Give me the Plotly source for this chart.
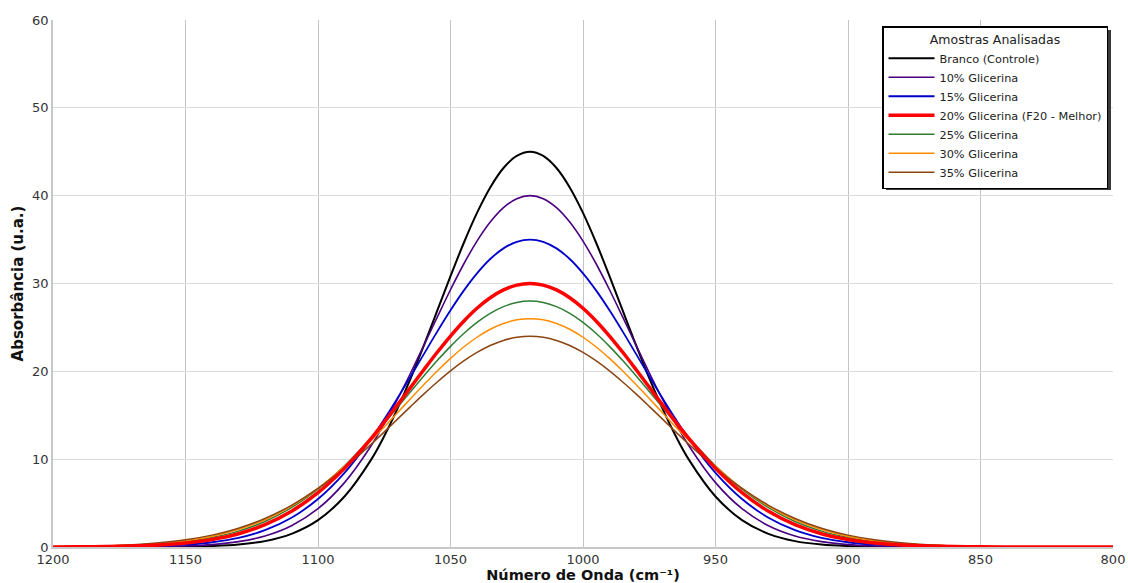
import plotly.graph_objects as go

wavenumber = [1200, 1190, 1180, 1170, 1160, 1150, 1140, 1130, 1120, 1110, 1100, 1090, 1080,
              1075, 1070, 1065, 1060, 1055, 1050, 1045, 1040, 1035, 1030, 1025, 1020,
              1015, 1010, 1005, 1000, 995, 990, 985, 980, 975, 970, 965,
              960, 950, 940, 930, 920, 910, 900, 890, 880, 870, 860, 850, 840, 830, 820, 810, 800]

branco = [0, 0, 0, 0, 0.01, 0.04, 0.11, 0.28, 0.67, 1.50, 3.06, 5.75, 9.92,
          12.63, 15.75, 19.22, 22.98, 26.90, 30.83, 34.61, 38.04, 40.94, 43.15, 44.53, 45.0,
          44.53, 43.15, 40.94, 38.04, 34.61, 30.83, 26.90, 22.98, 19.22, 15.75, 12.63,
          9.92, 5.75, 3.06, 1.50, 0.67, 0.28, 0.11, 0.04, 0.01, 0, 0, 0, 0, 0, 0, 0, 0]
g10 = [0, 0, 0.01, 0.02, 0.05, 0.12, 0.27, 0.61, 1.25, 2.42, 4.36, 7.33, 11.50,
       14.04, 16.83, 19.84, 22.99, 26.17, 29.29, 32.22, 34.83, 37.00, 38.64, 39.66, 40.0,
       39.66, 38.64, 37.00, 34.83, 32.22, 29.29, 26.17, 22.99, 19.84, 16.83, 14.04,
       11.50, 7.33, 4.36, 2.42, 1.25, 0.61, 0.27, 0.12, 0.05, 0.02, 0.01, 0, 0, 0, 0, 0, 0]
g15 = [0, 0.01, 0.02, 0.05, 0.12, 0.26, 0.54, 1.04, 1.92, 3.33, 5.46, 8.44, 12.31,
       14.54, 16.94, 19.44, 21.99, 24.52, 26.95, 29.19, 31.16, 32.79, 34.00, 34.75, 35.0,
       34.75, 34.00, 32.79, 31.16, 29.19, 26.95, 24.52, 21.99, 19.44, 16.94, 14.54,
       12.31, 8.44, 5.46, 3.33, 1.92, 1.04, 0.54, 0.26, 0.12, 0.05, 0.02, 0.01, 0, 0, 0, 0, 0]
g20 = [0.01, 0.02, 0.05, 0.12, 0.24, 0.46, 0.86, 1.51, 2.54, 4.06, 6.18, 8.95, 12.33,
       14.21, 16.18, 18.20, 20.21, 22.17, 24.02, 25.71, 27.18, 28.38, 29.27, 29.82, 30.0,
       29.82, 29.27, 28.38, 27.18, 25.71, 24.02, 22.17, 20.21, 18.20, 16.18, 14.21,
       12.33, 8.95, 6.18, 4.06, 2.54, 1.51, 0.86, 0.46, 0.24, 0.12, 0.05, 0.02, 0.01, 0, 0, 0, 0]
g25 = [0.02, 0.04, 0.09, 0.17, 0.33, 0.61, 1.08, 1.81, 2.91, 4.48, 6.58, 9.24, 12.40,
       14.12, 15.90, 17.70, 19.49, 21.22, 22.84, 24.31, 25.58, 26.61, 27.37, 27.84, 28.0,
       27.84, 27.37, 26.61, 25.58, 24.31, 22.84, 21.22, 19.49, 17.70, 15.90, 14.12,
       12.40, 9.24, 6.58, 4.48, 2.91, 1.81, 1.08, 0.61, 0.33, 0.17, 0.09, 0.04, 0.02, 0.01, 0, 0, 0]
g30 = [0.03, 0.06, 0.11, 0.22, 0.40, 0.72, 1.22, 1.99, 3.10, 4.65, 6.67, 9.18, 12.10,
       13.67, 15.28, 16.91, 18.50, 20.04, 21.47, 22.77, 23.88, 24.79, 25.45, 25.86, 26.0,
       25.86, 25.45, 24.79, 23.88, 22.77, 21.47, 20.04, 18.50, 16.91, 15.28, 13.67,
       12.10, 9.18, 6.67, 4.65, 3.10, 1.99, 1.22, 0.72, 0.40, 0.22, 0.11, 0.06, 0.03, 0.01, 0.01, 0, 0]
g35 = [0.04, 0.07, 0.14, 0.27, 0.48, 0.82, 1.35, 2.13, 3.25, 4.75, 6.67, 9.01, 11.68,
       13.11, 14.56, 16.01, 17.43, 18.78, 20.05, 21.18, 22.15, 22.94, 23.52, 23.88, 24.0,
       23.88, 23.52, 22.94, 22.15, 21.18, 20.05, 18.78, 17.43, 16.01, 14.56, 13.11,
       11.68, 9.01, 6.67, 4.75, 3.25, 2.13, 1.35, 0.82, 0.48, 0.27, 0.14, 0.07, 0.04, 0.02, 0.01, 0, 0]

names = ["Branco (Controle)", "10% Glicerina", "15% Glicerina", "20% Glicerina (F20 - Melhor)",
         "25% Glicerina", "30% Glicerina", "35% Glicerina"]
series = [branco, g10, g15, g20, g25, g30, g35]
colors = ["#000000", "#4B0082", "#0000CD", "#FF0000", "#2E7D32", "#FF8C00", "#8B4513"]
widths = [2, 1.6, 1.8, 3.5, 1.5, 1.5, 1.5]

x_ticks = [1200, 1150, 1100, 1050, 1000, 950, 900, 850, 800]
y_ticks = [0, 10, 20, 30, 40, 50, 60]

for s in series:
    assert len(s) == len(wavenumber), len(s)

fig = go.Figure()
draw_order = [0, 1, 2, 4, 5, 6, 3]
for i in draw_order:
    fig.add_trace(go.Scatter(
        x=wavenumber, y=series[i], mode="lines", name=names[i],
        line=dict(color=colors[i], width=widths[i], shape="spline", smoothing=1.0),
        legendrank=i + 1,
    ))

W, H = 1128, 583
# plot area on the page: x 53..1113, y 20..547
PX0, PX1, PY0, PY1 = 53, 1113, 20, 547


def px(v):
    return (v - PX0) / (PX1 - PX0)


def py(v):
    return (PY1 - v) / (PY1 - PY0)


# legend drop shadow
fig.add_shape(type="rect", xref="paper", yref="paper",
              x0=px(886), x1=px(1111), y0=py(190), y1=py(30),
              fillcolor="#3a3a3a", line=dict(width=0), layer="above")

font = "DejaVu Sans, Arial, sans-serif"
fig.update_layout(
    width=W, height=H,
    margin=dict(l=PX0, r=W - PX1, t=PY0, b=H - PY1),
    paper_bgcolor="white", plot_bgcolor="white",
    font=dict(family=font, size=13, color="#333333"),
    showlegend=True,
    legend=dict(
        x=px(1108), y=py(26), xanchor="right", yanchor="top",
        bgcolor="white", bordercolor="#000000", borderwidth=1.5,
        font=dict(family=font, size=11.3, color="#222222"),
        title=dict(text="Amostras Analisadas", side="top center",
                   font=dict(family=font, size=12.5, color="#222222")),
        itemwidth=46, tracegroupgap=0,
    ),
    xaxis=dict(
        range=[1200, 800], tickvals=x_ticks, ticktext=[str(v) for v in x_ticks],
        showgrid=True, gridcolor="#c4c4c4", gridwidth=1,
        showline=True, linecolor="#c8c8c8", linewidth=1.5,
        zeroline=False, ticks="", tickfont=dict(size=13, color="#333333"),
        automargin=False,
        title=dict(text="Número de Onda (cm⁻¹)", standoff=5,
                   font=dict(family=font, size=14.5, color="#111111", weight="bold")),
    ),
    yaxis=dict(
        range=[0, 60], tickvals=y_ticks,
        showgrid=True, gridcolor="#dcdcdc", gridwidth=1,
        showline=True, linecolor="#c8c8c8", linewidth=1.5,
        zeroline=False, ticks="", tickfont=dict(size=13, color="#333333"),
        automargin=False,
        title=dict(text="Absorbância (u.a.)", standoff=5,
                   font=dict(family=font, size=15, color="#111111", weight="bold")),
    ),
)

fig.write_html("out.html", config={"displayModeBar": False},
               post_script="document.body.style.margin='0';document.body.style.overflow='hidden';")
